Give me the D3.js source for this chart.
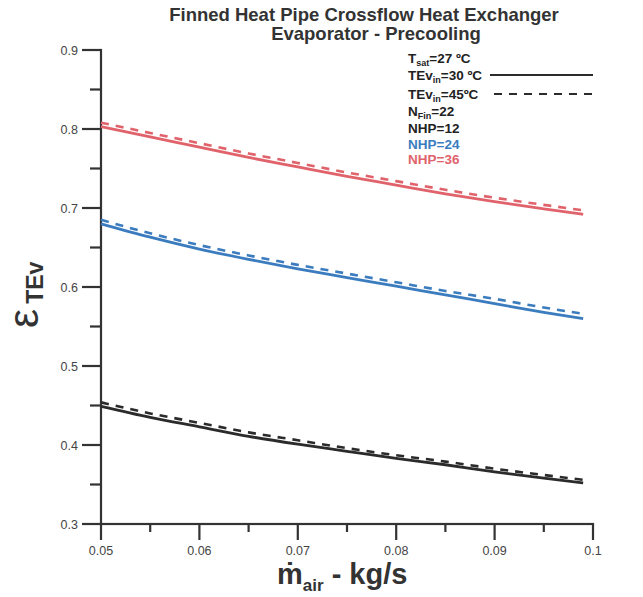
<!DOCTYPE html>
<html><head><meta charset="utf-8">
<script src="https://cdn.jsdelivr.net/npm/d3@7"></script>
<style>body{margin:0;background:#fff}svg{display:block}text{font-family:"Liberation Sans",Arial,sans-serif}</style>
</head><body><svg id="c" width="643" height="597"></svg>
<script>
const xVals = [0.05,0.055,0.06,0.065,0.07,0.075,0.08,0.085,0.09,0.095,0.099];
const nhp12_30 = [0.449,0.435,0.423,0.411,0.401,0.392,0.383,0.375,0.366,0.358,0.352];
const nhp12_45 = [0.454,0.440,0.428,0.416,0.406,0.396,0.387,0.379,0.370,0.362,0.356];
const nhp24_30 = [0.680,0.663,0.648,0.635,0.623,0.612,0.601,0.590,0.579,0.568,0.560];
const nhp24_45 = [0.685,0.668,0.653,0.640,0.628,0.617,0.606,0.595,0.585,0.574,0.566];
const nhp36_30 = [0.803,0.790,0.777,0.764,0.752,0.740,0.729,0.718,0.708,0.699,0.692];
const nhp36_45 = [0.808,0.795,0.782,0.769,0.757,0.745,0.734,0.723,0.713,0.704,0.697];
const xMajor = [0.05,0.06,0.07,0.08,0.09,0.1];
const xMinor = [0.055,0.065,0.075,0.085,0.095];
const yMajor = [0.3,0.4,0.5,0.6,0.7,0.8,0.9];
const yMinor = [0.35,0.45,0.55,0.65,0.75,0.85];
const xTickLabels = ["0.05","0.06","0.07","0.08","0.09","0.1"];
const yTickLabels = ["0.3","0.4","0.5","0.6","0.7","0.8","0.9"];

const colors = {black:"#2b2b2b", blue:"#3b7cbf", red:"#e0636b"};
const svg = d3.select("#c");
const x = d3.scaleLinear().domain([0.05,0.1]).range([101,593]);
const y = d3.scaleLinear().domain([0.3,0.9]).range([524,50]);
const axisColor = "#333";
const X0 = x(0.05), Y0 = y(0.3);
const W = 2.2;

// axis lines as rects
svg.append("rect").attr("x",X0-W/2).attr("y",y(0.9)-W/2).attr("width",W).attr("height",Y0-y(0.9)+W).attr("fill",axisColor);
svg.append("rect").attr("x",X0-W/2).attr("y",Y0-W/2).attr("width",x(0.1)-X0+W).attr("height",W).attr("fill",axisColor);
// ticks as rects
const xt1 = svg.append("g");
xt1.selectAll("rect.maj").data(xMajor).join("rect").attr("class","maj")
  .attr("x",v=>x(v)-W/2).attr("y",Y0).attr("width",W).attr("height",16).attr("fill",axisColor);
xt1.selectAll("rect.min").data(xMinor).join("rect").attr("class","min")
  .attr("x",v=>x(v)-W/2).attr("y",Y0).attr("width",W).attr("height",8).attr("fill",axisColor);
const yt1 = svg.append("g");
yt1.selectAll("rect.maj").data(yMajor).join("rect").attr("class","maj")
  .attr("x",X0-19).attr("y",v=>y(v)-W/2).attr("width",19).attr("height",W).attr("fill",axisColor);
yt1.selectAll("rect.min").data(yMinor).join("rect").attr("class","min")
  .attr("x",X0-11).attr("y",v=>y(v)-W/2).attr("width",11).attr("height",W).attr("fill",axisColor);

svg.append("g").selectAll("text").data(xMajor).join("text")
  .attr("x",v=>x(v)).attr("y",Y0+31).attr("text-anchor","middle")
  .attr("font-size",12.5).attr("fill","#444").text((v,i)=>xTickLabels[i]);
svg.append("g").selectAll("text").data(yMajor).join("text")
  .attr("x",X0-23).attr("y",v=>y(v)+4.5).attr("text-anchor","end")
  .attr("font-size",12.5).attr("fill","#444").text((v,i)=>yTickLabels[i]);

// curves
const line = d3.line().x((v,i)=>x(xVals[i])).y(v=>y(v)).curve(d3.curveMonotoneX);
const series = [
  {v:nhp12_30,c:colors.black,dash:null},
  {v:nhp12_45,c:colors.black,dash:"8,7"},
  {v:nhp24_30,c:colors.blue,dash:null},
  {v:nhp24_45,c:colors.blue,dash:"8,7"},
  {v:nhp36_30,c:colors.red,dash:null},
  {v:nhp36_45,c:colors.red,dash:"8,7"}
];
series.forEach(s=>{
  svg.append("path").attr("d",line(s.v)).attr("fill","none")
    .attr("stroke",s.c).attr("stroke-width",s.dash?2.6:2.8)
    .attr("stroke-dasharray",s.dash);
});

// title
svg.append("text").attr("x",364).attr("y",21).attr("text-anchor","middle")
  .attr("font-size",18.5).attr("font-weight","bold").attr("fill","#333")
  .text("Finned Heat Pipe Crossflow Heat Exchanger");
svg.append("text").attr("x",376).attr("y",40).attr("text-anchor","middle")
  .attr("font-size",18.5).attr("font-weight","bold").attr("fill","#333")
  .text("Evaporator - Precooling");

// legend
const lx = 408;
function legendText(yy, parts, color){
  const t = svg.append("text").attr("x",lx).attr("y",yy).attr("font-size",13.5)
    .attr("font-weight","bold").attr("fill",color);
  parts.forEach(p=>{
    if(p.sub){
      t.append("tspan").attr("font-size",9).attr("dy",3).text(p.t);
    } else {
      t.append("tspan").attr("dy",p.after?-3:0).text(p.t);
    }
  });
  return t;
}
legendText(63,[{t:"T"},{t:"sat",sub:true},{t:"=27 ºC",after:true}],"#222");
legendText(80,[{t:"TEv"},{t:"in",sub:true},{t:"=30 ºC",after:true}],"#222");
legendText(99,[{t:"TEv"},{t:"in",sub:true},{t:"=45ºC",after:true}],"#222");
legendText(116,[{t:"N"},{t:"Fin",sub:true},{t:"=22",after:true}],"#222");
legendText(133,[{t:"NHP=12"}],"#222");
legendText(149,[{t:"NHP=24"}],colors.blue);
legendText(164,[{t:"NHP=36"}],colors.red);
svg.append("path").attr("d","M490,75H593").attr("stroke",colors.black).attr("stroke-width",2);
svg.append("path").attr("d","M494,94H593").attr("stroke",colors.black).attr("stroke-width",2)
  .attr("stroke-dasharray","8,7");

// x axis title
const xt = svg.append("text").attr("x",277).attr("y",584).attr("font-size",29)
  .attr("font-weight","bold").attr("fill","#333");
xt.append("tspan").text("ṁ");
xt.append("tspan").attr("font-size",17).attr("dy",7).text("air");
xt.append("tspan").attr("dy",-7).text(" - kg/s");

// y axis title
const yt = svg.append("text").attr("transform","translate(38,328) rotate(-90)")
  .attr("fill","#333");
yt.append("tspan").attr("font-size",43).text("ε");
yt.append("tspan").attr("font-size",23).attr("font-weight","bold").attr("dx",5).attr("dy",5).text("TEv");
</script></body></html>
